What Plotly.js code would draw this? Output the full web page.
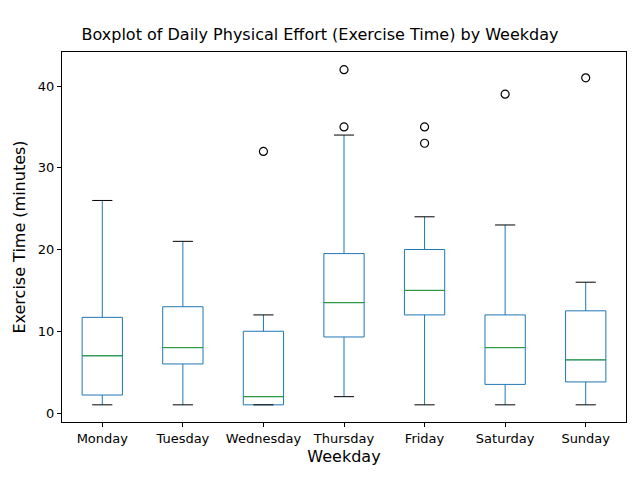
<!DOCTYPE html>
<html>
<head>
<script src="https://cdn.plot.ly/plotly-3.0.1.min.js"></script>
<style>body{margin:0}</style>
</head>
<body>
<div id="chart" style="width:640px;height:480px"></div>
<script>
const days = ['Monday', 'Tuesday', 'Wednesday', 'Thursday', 'Friday', 'Saturday', 'Sunday'];
const lowerWhisker = [1, 1, 1, 2, 1, 1, 1];
const q1 = [2.2, 6, 1, 9.3, 12, 3.5, 3.8];
const median = [7, 8, 2, 13.5, 15, 8, 6.5];
const q3 = [11.7, 13, 10, 19.5, 20, 12, 12.5];
const upperWhisker = [26, 21, 12, 34, 24, 23, 16];
const outlierDay = [3, 4, 4, 5, 5, 6, 7];
const outlierValue = [32, 35, 42, 33, 35, 39, 41];

const pos = days.map((d, i) => i + 1);

// black caps and green medians, drawn as short segments around each box position
function segments(vals, half) {
    const x = [], y = [];
    vals.forEach((v, i) => {
        x.push(pos[i] - half, pos[i] + half, null);
        y.push(v, v, null);
    });
    return { x, y };
}
const capsLo = segments(lowerWhisker, 0.125);
const capsHi = segments(upperWhisker, 0.125);
const meds = segments(median, 0.25);

const data = [
    {
        type: 'box', x: pos, q1: q1, median: median, q3: q3,
        lowerfence: lowerWhisker, upperfence: upperWhisker,
        width: 0.5, whiskerwidth: 0, boxpoints: false,
        fillcolor: 'rgba(0,0,0,0)', line: { color: '#1f77b4', width: 1 },
        hoverinfo: 'skip'
    },
    { x: capsLo.x.concat(capsHi.x), y: capsLo.y.concat(capsHi.y), mode: 'lines',
      line: { color: 'black', width: 1 }, hoverinfo: 'skip' },
    { x: meds.x, y: meds.y, mode: 'lines', line: { color: '#2ca02c', width: 1 }, hoverinfo: 'skip' },
    { x: outlierDay, y: outlierValue, mode: 'markers',
      marker: { symbol: 'circle-open', size: 8, color: 'black', line: { width: 1.2 } } }
];

const axisCommon = {
    showgrid: false, zeroline: false, showline: true, mirror: true,
    linecolor: 'black', linewidth: 1, ticks: 'outside', ticklen: 4, tickcolor: 'black'
};
const layout = {
    width: 640, height: 480, showlegend: false,
    font: { family: 'DejaVu Sans', size: 13, color: 'black' },
    margin: { l: 62, r: 14, t: 52, b: 58 },
    paper_bgcolor: 'white', plot_bgcolor: 'white',
    title: { text: 'Boxplot of Daily Physical Effort (Exercise Time) by Weekday',
             font: { size: 16 }, x: 0.5, xanchor: 'center', y: 0.94 },
    xaxis: Object.assign({}, axisCommon, {
        range: [0.5, 7.5], tickvals: pos, ticktext: days,
        title: { text: 'Weekday', standoff: 6 }
    }),
    yaxis: Object.assign({}, axisCommon, {
        range: [-1.1, 44.16], tickvals: [0, 10, 20, 30, 40],
        title: { text: 'Exercise Time (minutes)', standoff: 8 }
    })
};
Plotly.newPlot('chart', data, layout, { displayModeBar: false });
</script>
</body>
</html>
